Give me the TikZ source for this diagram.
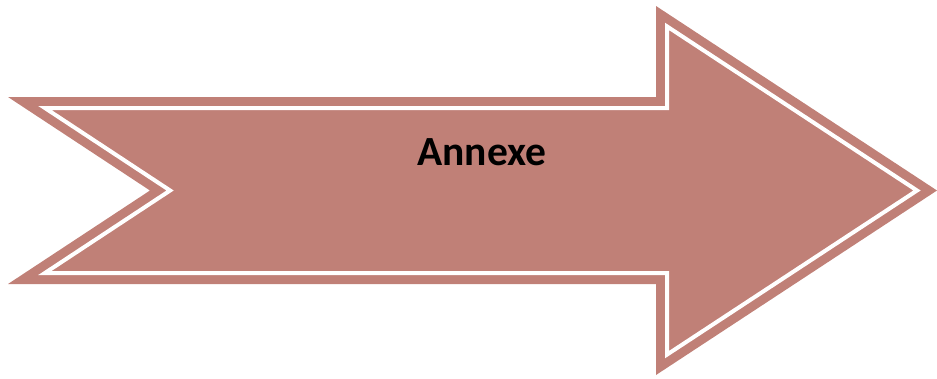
\documentclass[tikz,border=0pt]{standalone}
\usepackage{fontspec}
\setmainfont{Carlito}
\definecolor{arrowfill}{RGB}{192,128,119}
\tikzset{
  arrowbody/.style={fill=arrowfill, draw=none},
  innerrule/.style={draw=white, line width=4pt, line join=miter},
  labeltext/.style={font=\fontsize{41.5}{50}\selectfont\bfseries, text=black, inner sep=0pt}
}
\begin{document}
\begin{tikzpicture}[x=1pt,y=-1pt]
  \useasboundingbox (0,0) rectangle (937,378);
  % notched block arrow
  \fill[arrowbody] (8,97) -- (656,97) -- (656,6) -- (937,190.5) -- (656,375)
    -- (656,284) -- (8,284) -- (150,190.5) -- cycle;
  % inset white outline
  \draw[innerrule] (44.9,108) -- (667,108) -- (667,26.4) -- (917,190.5)
    -- (667,354.6) -- (667,273) -- (44.9,273) -- (170.1,190.5) -- cycle;
  \node[labeltext, anchor=base] (label) at (482,165) {Annexe};
\end{tikzpicture}
\end{document}
